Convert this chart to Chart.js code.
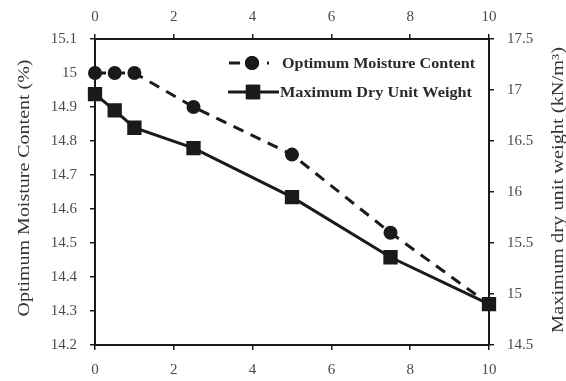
<!DOCTYPE html>
<html>
<head>
<meta charset="utf-8">
<script src="https://cdn.jsdelivr.net/npm/chart.js@4/dist/chart.umd.min.js"></script>
<style>
  html, body { margin: 0; padding: 0; background: #fff; }
  #wrap { width: 566px; height: 381px; }
</style>
</head>
<body>
<div id="wrap"><canvas id="c" width="566" height="381"></canvas></div>
<script>
// Additive content on the horizontal axis
const contents = [0, 0.5, 1, 2.5, 5, 7.5, 10];
// Optimum moisture content (%), left axis
const moisture = [15.0, 15.0, 15.0, 14.9, 14.76, 14.53, 14.32];
// Maximum dry unit weight (kN/m³), right axis
const dryWeight = [16.96, 16.80, 16.63, 16.43, 15.95, 15.36, 14.90];

const xTicks = [0, 2, 4, 6, 8, 10];
const leftTicks = [14.2, 14.3, 14.4, 14.5, 14.6, 14.7, 14.8, 14.9, 15.0, 15.1];
const rightTicks = [14.5, 15, 15.5, 16, 16.5, 17, 17.5];

const seriesNames = ['Optimum Moisture Content', 'Maximum Dry Unit Weight'];
const leftTitle = 'Optimum Moisture Content (%)';
const rightTitle = 'Maximum dry unit weight (kN/m³)';

const SERIF = '"Liberation Serif", "Times New Roman", serif';
const INK = '#1a1a1a';
const TICK_TEXT = '#4a4a4a';

function pairs(xs, ys) { return xs.map((x, i) => ({ x, y: ys[i] })); }
function fixedTicks(list) {
  return function (scale) { scale.ticks = list.map(v => ({ value: v })); };
}
function fmt(v) { return String(Math.round(v * 10) / 10); }

const tickFont = { family: SERIF, size: 15 };
const gridOpts = { display: true, drawOnChartArea: false, drawTicks: true, tickLength: 5, color: INK, lineWidth: 1.5 };
const borderOpts = { display: true, color: INK, width: 2 };

// Rotated axis titles reading bottom-to-top on both sides, stretched to a set length
function drawAxisTitle(ctx, text, cx, cy, length) {
  ctx.save();
  ctx.font = '16.5px ' + SERIF;
  const w = ctx.measureText(text).width;
  ctx.translate(cx, cy);
  ctx.rotate(-Math.PI / 2);
  ctx.scale(length / w, 1);
  ctx.textAlign = 'center';
  ctx.textBaseline = 'middle';
  ctx.fillStyle = '#333';
  ctx.fillText(text, 0, 0);
  ctx.restore();
}

const decorations = {
  id: 'decorations',
  afterDraw(chart) {
    const ctx = chart.ctx;
    drawAxisTitle(ctx, leftTitle, 25, 188, 257);
    drawAxisTitle(ctx, rightTitle, 559, 190, 286);

    // legend inside the plot area
    const rows = [
      { y: 63, ds: chart.data.datasets[0], x0: 229, x1: 269, mx: 252, tx: 282, tw: 193 },
      { y: 92, ds: chart.data.datasets[1], x0: 228, x1: 279, mx: 253, tx: 280, tw: 192 }
    ];
    rows.forEach((r) => {
      ctx.save();
      ctx.strokeStyle = r.ds.borderColor;
      ctx.lineWidth = r.ds.borderWidth;
      ctx.setLineDash(r.ds.borderDash || []);
      ctx.beginPath();
      ctx.moveTo(r.x0, r.y);
      ctx.lineTo(r.x1, r.y);
      ctx.stroke();
      ctx.setLineDash([]);
      Chart.helpers.drawPoint(ctx, {
        pointStyle: r.ds.pointStyle,
        radius: r.ds.pointRadius,
        rotation: 0,
        borderWidth: 1
      }, r.mx, r.y);
      ctx.fillStyle = r.ds.pointBackgroundColor;
      ctx.strokeStyle = r.ds.pointBorderColor;
      ctx.fill();
      ctx.stroke();
      ctx.font = 'bold 15.5px ' + SERIF;
      const w = ctx.measureText(r.ds.label).width;
      ctx.translate(r.tx, r.y + 1);
      ctx.scale(r.tw / w, 1);
      ctx.fillStyle = '#2a2a2a';
      ctx.textAlign = 'left';
      ctx.textBaseline = 'middle';
      ctx.fillText(r.ds.label, 0, 0);
      ctx.restore();
    });
  }
};

new Chart(document.getElementById('c'), {
  type: 'line',
  data: {
    datasets: [
      {
        label: seriesNames[0],
        data: pairs(contents, moisture),
        yAxisID: 'y',
        xAxisID: 'x',
        borderColor: INK,
        borderWidth: 3,
        borderDash: [11, 8],
        pointStyle: 'circle',
        pointRadius: 5.5,
        pointBackgroundColor: INK,
        pointBorderColor: INK,
        tension: 0,
        clip: false
      },
      {
        label: seriesNames[1],
        data: pairs(contents, dryWeight),
        yAxisID: 'y2',
        xAxisID: 'x',
        borderColor: INK,
        borderWidth: 3,
        pointStyle: 'rect',
        pointRadius: 8,
        pointBackgroundColor: INK,
        pointBorderColor: INK,
        tension: 0,
        clip: false
      }
    ]
  },
  options: {
    responsive: false,
    animation: false,
    layout: { padding: 0 },
    plugins: { legend: { display: false }, tooltip: { enabled: false } },
    scales: {
      x: {
        type: 'linear', position: 'bottom', min: 0, max: 10,
        afterBuildTicks: fixedTicks(xTicks),
        afterFit(s) { s.height = 36; },
        grid: gridOpts, border: borderOpts,
        ticks: { font: tickFont, color: TICK_TEXT, padding: 11, maxRotation: 0, callback: fmt }
      },
      x2: {
        type: 'linear', position: 'top', min: 0, max: 10,
        afterBuildTicks: fixedTicks(xTicks),
        afterFit(s) { s.height = 39; },
        grid: gridOpts, border: borderOpts,
        ticks: { font: tickFont, color: TICK_TEXT, padding: 8, maxRotation: 0, callback: fmt }
      },
      y: {
        type: 'linear', position: 'left', min: 14.2, max: 15.1,
        afterBuildTicks: fixedTicks(leftTicks),
        afterFit(s) { s.width = 95; },
        grid: gridOpts, border: borderOpts,
        ticks: { font: tickFont, color: TICK_TEXT, padding: 13, callback: fmt }
      },
      y2: {
        type: 'linear', position: 'right', min: 14.5, max: 17.5,
        afterBuildTicks: fixedTicks(rightTicks),
        afterFit(s) { s.width = 77; },
        grid: gridOpts, border: borderOpts,
        ticks: { font: tickFont, color: TICK_TEXT, padding: 13, callback: fmt }
      }
    }
  },
  plugins: [decorations]
});
</script>
</body>
</html>
